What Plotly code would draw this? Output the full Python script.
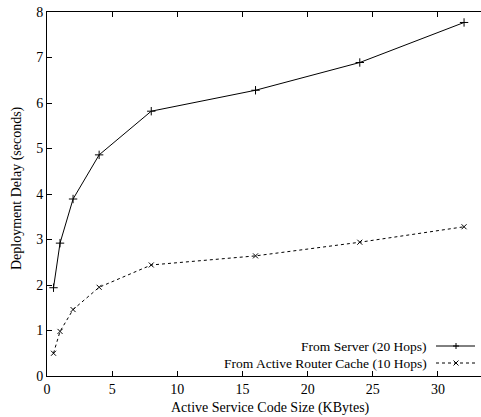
import plotly.graph_objects as go

code_size_kb = [0.5, 1, 2, 4, 8, 16, 24, 32]
from_server = [1.94, 2.92, 3.89, 4.86, 5.82, 6.28, 6.89, 7.77]
from_cache = [0.50, 0.98, 1.46, 1.95, 2.44, 2.64, 2.94, 3.28]
series_names = ["From Server (20 Hops)", "From Active Router Cache (10 Hops)"]
x_ticks = [0, 5, 10, 15, 20, 25, 30]
y_ticks = [0, 1, 2, 3, 4, 5, 6, 7, 8]
x_title = "Active Service Code Size (KBytes)"
y_title = "Deployment Delay (seconds)"

FONT = "Liberation Serif"
W, H = 481, 417
ML, MR, MT, MB = 47, 0, 12, 41
PW, PH = W - ML - MR, H - MT - MB

fig = go.Figure()
fig.add_trace(go.Scatter(
    x=code_size_kb, y=from_server, mode="lines+markers", name=series_names[0],
    line=dict(color="black", width=1),
    marker=dict(symbol="cross-thin", size=6, line=dict(color="black", width=1)),
    showlegend=False))
fig.add_trace(go.Scatter(
    x=code_size_kb, y=from_cache, mode="lines+markers", name=series_names[1],
    line=dict(color="black", width=1, dash="3px,3px"),
    marker=dict(symbol="x-thin", size=5, line=dict(color="black", width=1)),
    showlegend=False))

def px2paper(px, py):
    return (px - ML) / PW, (H - MB - py) / PH

shapes = []
annotations = []
rows = [(346, "solid", "plus"), (363, "3px,3px", "x")]
for (py, dash, mk), name in zip(rows, series_names):
    x0, y0 = px2paper(436, py)
    x1, _ = px2paper(475, py)
    shapes.append(dict(type="line", xref="paper", yref="paper", x0=x0, x1=x1, y0=y0, y1=y0,
                       line=dict(color="black", width=1, dash=dash)))
    cx, cy = px2paper(456, py)
    if mk == "plus":
        dx, dy = 3 / PW, 3 / PH
        shapes.append(dict(type="line", xref="paper", yref="paper", x0=cx - dx, x1=cx + dx, y0=cy, y1=cy,
                           line=dict(color="black", width=1)))
        shapes.append(dict(type="line", xref="paper", yref="paper", x0=cx, x1=cx, y0=cy - dy, y1=cy + dy,
                           line=dict(color="black", width=1)))
    else:
        d2x, d2y = 2.5 / PW, 2.5 / PH
        shapes.append(dict(type="line", xref="paper", yref="paper", x0=cx - d2x, x1=cx + d2x, y0=cy - d2y, y1=cy + d2y,
                           line=dict(color="black", width=1)))
        shapes.append(dict(type="line", xref="paper", yref="paper", x0=cx - d2x, x1=cx + d2x, y0=cy + d2y, y1=cy - d2y,
                           line=dict(color="black", width=1)))
    tx, ty = px2paper(429, py)
    annotations.append(dict(text=name, xref="paper", yref="paper", x=tx, y=ty, xanchor="right",
                            yanchor="middle", showarrow=False, font=dict(family=FONT, size=13.5, color="black")))

# axis titles placed as annotations
xtx, xty = px2paper(270, 408)
annotations.append(dict(text=x_title, xref="paper", yref="paper", x=xtx, y=xty, xanchor="center",
                        yanchor="middle", showarrow=False, font=dict(family=FONT, size=14, color="black")))
ytx, yty = px2paper(17, 188)
annotations.append(dict(text=y_title, xref="paper", yref="paper", x=ytx, y=yty, xanchor="center",
                        yanchor="middle", textangle=-90, showarrow=False,
                        font=dict(family=FONT, size=14, color="black")))

fig.update_layout(
    width=W, height=H,
    margin=dict(l=ML, r=MR, t=MT, b=MB, pad=0, autoexpand=False),
    paper_bgcolor="white", plot_bgcolor="white",
    font=dict(family=FONT, size=14, color="black"),
    shapes=shapes, annotations=annotations,
    xaxis=dict(range=[0, 33.3], tickvals=x_ticks, ticks="inside", ticklen=5, tickcolor="black",
               showline=True, linecolor="black", linewidth=1, mirror="ticks", showgrid=False,
               zeroline=False, tickfont=dict(family=FONT, size=14), automargin=False),
    yaxis=dict(range=[0, 8], tickvals=y_ticks, ticks="inside", ticklen=5, tickcolor="black",
               showline=True, linecolor="black", linewidth=1, mirror=False, showgrid=False,
               zeroline=False, tickfont=dict(family=FONT, size=14), automargin=False),
)

fig.write_html("out.html", config={"displayModeBar": False},
               post_script="document.body.style.margin='0';")
